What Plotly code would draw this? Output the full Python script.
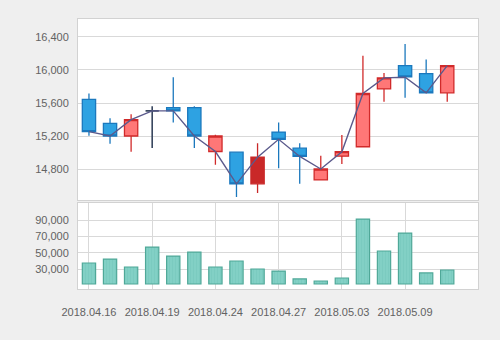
import plotly.graph_objects as go

dates = ["2018.04.16", "2018.04.17", "2018.04.18", "2018.04.19", "2018.04.20",
         "2018.04.23", "2018.04.24", "2018.04.25", "2018.04.26", "2018.04.27",
         "2018.04.30", "2018.05.02", "2018.05.03", "2018.05.04", "2018.05.08",
         "2018.05.09", "2018.05.10", "2018.05.11"]
open_ = [15643, 15354, 15200, 15505, 15545, 15545, 15012, 15004, 14620, 15248,
         15052, 14668, 14955, 15070, 15771, 16053, 15957, 15723]
high = [15716, 15415, 15464, 15562, 15911, 15562, 15216, 15012, 15112, 15364,
        15112, 14960, 15212, 16174, 15965, 16315, 16126, 16053]
low = [15204, 15107, 15009, 15054, 15363, 15054, 14852, 14460, 14508, 14808,
       14620, 14668, 14860, 15070, 15614, 15663, 15723, 15614]
close = [15253, 15200, 15399, 15505, 15505, 15200, 15200, 14620, 14944, 15160,
         14952, 14800, 15010, 15715, 15904, 15916, 15723, 16053]
line_vals = [15253, 15200, 15399, 15505, 15505, 15200, 15012, 14620, 14944, 15160,
             14952, 14800, 15008, 15715, 15904, 15912, 15723, 16053]
volume = [37400, 42300, 32500, 57100, 46000, 50900, 32500, 39900, 30000, 27500,
          17700, 15200, 18900, 91600, 52200, 74400, 25100, 28800]
tick_labels = ["2018.04.16", "2018.04.19", "2018.04.24", "2018.04.27", "2018.05.03", "2018.05.09"]

HIGHLIGHT = 8
VOL_BASE = 11500

x = list(range(len(dates)))
tickvals = [dates.index(t) for t in tick_labels]

FONT = "Liberation Sans Narrow, Arial Narrow, Liberation Sans, Arial"
BLUE_FILL, BLUE_LINE = "#2ea2e2", "#1b78bd"
RED_FILL, RED_LINE = "#ff7777", "#d12a2a"

normal = [i for i in x if i != HIGHLIGHT and open_[i] != close[i]]
doji = [i for i in x if open_[i] == close[i]]

def sub(arr, idx):
    return [arr[i] for i in idx]

fig = go.Figure()
fig.add_trace(go.Candlestick(
    x=sub(x, normal), open=sub(open_, normal), high=sub(high, normal),
    low=sub(low, normal), close=sub(close, normal),
    increasing=dict(fillcolor=RED_FILL, line=dict(color=RED_LINE, width=1.3)),
    decreasing=dict(fillcolor=BLUE_FILL, line=dict(color=BLUE_LINE, width=1.3)),
    whiskerwidth=0, xaxis="x", yaxis="y", showlegend=False, hoverinfo="skip"))
fig.add_trace(go.Candlestick(
    x=[x[HIGHLIGHT]], open=[open_[HIGHLIGHT]], high=[high[HIGHLIGHT]],
    low=[low[HIGHLIGHT]], close=[close[HIGHLIGHT]],
    increasing=dict(fillcolor="#c92828", line=dict(color="#c92828", width=1.3)),
    decreasing=dict(fillcolor="#c92828", line=dict(color="#c92828", width=1.3)),
    whiskerwidth=0, xaxis="x", yaxis="y", showlegend=False, hoverinfo="skip"))
fig.add_trace(go.Candlestick(
    x=sub(x, doji), open=sub(open_, doji), high=sub(high, doji),
    low=sub(low, doji), close=sub(close, doji),
    increasing=dict(fillcolor="#3a4860", line=dict(color="#3a4860", width=1.6)),
    decreasing=dict(fillcolor="#3a4860", line=dict(color="#3a4860", width=1.6)),
    whiskerwidth=0, xaxis="x", yaxis="y", showlegend=False, hoverinfo="skip"))
fig.add_trace(go.Scatter(
    x=x, y=line_vals, mode="lines", line=dict(color="#5b5a8c", width=1.4),
    xaxis="x", yaxis="y", showlegend=False, hoverinfo="skip"))
fig.add_trace(go.Bar(
    x=x, y=[v - VOL_BASE for v in volume], base=VOL_BASE, width=0.63,
    marker=dict(color="#80cec3", line=dict(color="#4fa898", width=1.2),
                pattern=dict(shape="|", fgcolor="#6fc3b7", bgcolor="#82d0c5", size=3, solidity=0.25)),
    xaxis="x2", yaxis="y2", showlegend=False, hoverinfo="skip"))

axis_common = dict(showline=True, linecolor="#d2d2d2", linewidth=1, mirror=True,
                   gridcolor="#d9d9d9", gridwidth=1, zeroline=False,
                   tickfont=dict(family=FONT, size=11, color="#626262"))
xr = [-0.52, 18.46]
fig.update_layout(
    width=500, height=340,
    margin=dict(l=78, r=22, t=19, b=51),
    paper_bgcolor="#efefef", plot_bgcolor="#ffffff",
    boxgap=0.37, boxgroupgap=0,
    xaxis=dict(domain=[0, 1], range=xr, showgrid=False, showticklabels=False,
               rangeslider=dict(visible=False), anchor="y", **axis_common),
    yaxis=dict(domain=[0.328, 1], range=[14419, 16618], tickvals=[14800, 15200, 15600, 16000, 16400],
               tickformat=",d", showgrid=True, anchor="x", ticks="outside", ticklen=6,
               tickcolor="rgba(0,0,0,0)", **axis_common),
    xaxis2=dict(domain=[0, 1], range=xr, tickvals=tickvals, ticktext=tick_labels, showgrid=True,
                anchor="y2", ticks="outside", ticklen=13, tickcolor="rgba(0,0,0,0)", **axis_common),
    yaxis2=dict(domain=[0, 0.3185], range=[5308, 111480], tickvals=[30000, 50000, 70000, 90000],
                tickformat=",d", showgrid=True, anchor="x2", ticks="outside", ticklen=6,
                tickcolor="rgba(0,0,0,0)", **axis_common),
)
fig.write_html("out.html")
